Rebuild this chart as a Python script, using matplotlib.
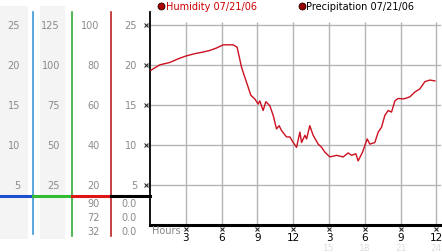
import matplotlib
matplotlib.use("Agg")
import matplotlib.pyplot as plt
from matplotlib import transforms

# ---------------- data ----------------
hours = [0.07, 0.26, 0.82, 1.66, 2.36, 3.0, 3.76, 4.45, 5.01, 5.57, 5.99, 6.13,
         6.97, 7.3, 7.67, 8.09, 8.45, 8.78, 9.06, 9.2, 9.48, 9.71, 10.04, 10.32,
         10.6, 10.82, 11.02, 11.44, 11.72, 12.0, 12.28, 12.56, 12.7, 12.98, 13.12,
         13.39, 13.67, 14.09, 14.38, 14.65, 15.07, 15.63, 16.19, 16.6, 16.89,
         17.25, 17.44, 17.81, 18.2, 18.42, 18.84, 19.12, 19.4, 19.68, 19.96,
         20.24, 20.52, 20.8, 21.27, 21.77, 22.19, 22.61, 23.03, 23.45, 23.87]
humidity = [19.3, 19.5, 20.0, 20.3, 20.75, 21.1, 21.4, 21.6, 21.8, 22.1, 22.4, 22.5,
            22.5, 22.2, 19.7, 17.8, 16.2, 15.75, 15.1, 15.5, 14.3, 15.4, 14.9, 13.7,
            12.0, 12.4, 11.8, 11.0, 11.0, 10.3, 9.7, 11.6, 10.3, 11.2, 10.75,
            12.4, 11.2, 10.1, 9.7, 9.1, 8.5, 8.7, 8.5, 9.0, 8.7,
            8.9, 8.0, 9.1, 10.75, 10.1, 10.3, 11.6, 12.2, 13.7, 14.3,
            14.1, 15.5, 15.8, 15.75, 16.0, 16.6, 17.0, 17.9, 18.1, 18.0]

y_ticks = [5, 10, 15, 20, 25]
col1_labels = ["5", "10", "15", "20", "25"]
col2_labels = ["25", "50", "75", "100", "125"]
col3_labels = ["20", "40", "60", "80", "100"]
col4_labels = ["5", "10", "15", "20", "25"]
col3_extra = ["90", "72", "32"]
col4_extra = ["0.0", "0.0", "0.0"]

x_ticks = [3, 6, 9, 12, 15, 18, 21, 24]
x_labels = ["3", "6", "9", "12", "3", "6", "9", "12"]
x_faint_ticks = [15, 18, 21, 24]
x_faint_labels = ["15", "18", "21", "24"]

legend_names = ["Humidity 07/21/06", "Precipitation 07/21/06"]

# ---------------- figure ----------------
W, H = 442, 253
fig = plt.figure(figsize=(W / 100, H / 100), dpi=100)
fig.patch.set_facecolor("white")

ax = fig.add_axes([150 / W, 27 / H, 290 / W, 213 / H])
ax.set_xlim(0, 24.3)
ax.set_ylim(0, 26.6)
ax.set_facecolor("white")
for s in ["top", "right"]:
    ax.spines[s].set_visible(False)
ax.spines["left"].set_linewidth(1.3)
ax.spines["bottom"].set_linewidth(2.2)
ax.spines["left"].set_color("black")
ax.spines["bottom"].set_color("black")
ax.set_yticks([])
ax.set_xticks(x_ticks)
ax.set_xticklabels(x_labels)
ax.tick_params(axis="x", length=0, pad=5, labelsize=7.5, labelcolor="black")

# overlay in pixel coordinates
ov = fig.add_axes([0, 0, 1, 1])
ov.set_xlim(0, W)
ov.set_ylim(H, 0)
ov.axis("off")
ov.patch.set_alpha(0)

px_y = transforms.blended_transform_factory(ov.transData, ax.transData)   # x pixels, y data
x_py = transforms.blended_transform_factory(ax.transData, ov.transData)   # x data, y pixels

grid_c = "#b4b4b4"
# horizontal grid
for v in y_ticks:
    ax.plot([-0.3, 24.3], [v, v], color=grid_c, lw=1, zorder=1, clip_on=False)
# vertical grid
ax.vlines(x_ticks, 0, 25.3, color=grid_c, lw=1, zorder=1)

# humidity line
ax.plot(hours, humidity, color="#cc1020", lw=1.0, zorder=3)

# y tick markers
ov.plot([145.7] * len(y_ticks), y_ticks, transform=px_y, ls="none", marker="x",
        ms=3, mew=0.8, color="#333333", zorder=5)
# x tick markers
ov.plot(x_ticks, [229.5] * len(x_ticks), transform=x_py, ls="none", marker="x",
        ms=3, mew=0.8, color="#333333", zorder=5, clip_on=False)

# faint secondary labels
for t, lab in zip(x_faint_ticks, x_faint_labels):
    ov.text(t, 248.5, lab, transform=x_py, ha="center", va="center",
            fontsize=6.5, color="#dddddd")

ov.text(152, 231, "Hours", ha="left", va="center", fontsize=7, color="#888888")

# ---------------- left panel ----------------
ov.add_patch(plt.Rectangle((0, 7), 28, 233, color="#f4f4f4", zorder=0, lw=0))
ov.add_patch(plt.Rectangle((40, 7), 25, 233, color="#f4f4f4", zorder=0, lw=0))

ov.plot([33.3, 33.3], [13, 235], color="#3c98d8", lw=1.2)
ov.plot([72.3, 72.3], [13, 237], color="#33aa33", lw=1.2)
ov.plot([111.3, 111.3], [13, 237], color="#bb2222", lw=1.2)

ov.plot([0, 33.3], [197, 197], color="#1a4fd0", lw=2.2)
ov.plot([33.3, 72.3], [197, 197], color="#33bb33", lw=2.2)
ov.plot([72.3, 111.3], [197, 197], color="#dd1515", lw=2.2)
ov.plot([111.3, 149.5], [197, 197], color="black", lw=2.2)

tc = "#8a8a8a"
fs = 7
for v, a, b, c, d in zip(y_ticks, col1_labels, col2_labels, col3_labels, col4_labels):
    ov.text(20, v, a, transform=px_y, ha="right", va="center", fontsize=fs, color=tc)
    ov.text(60, v, b, transform=px_y, ha="right", va="center", fontsize=fs, color=tc)
    ov.text(99.5, v, c, transform=px_y, ha="right", va="center", fontsize=fs, color=tc)
    ov.text(137, v, d, transform=px_y, ha="right", va="center", fontsize=fs, color=tc)

for yy, c, d in zip([204, 218, 232], col3_extra, col4_extra):
    ov.text(99.5, yy, c, ha="right", va="center", fontsize=fs, color=tc)
    ov.text(137, yy, d, ha="right", va="center", fontsize=fs, color=tc)

# ---------------- legend ----------------
ov.plot([161], [6.5], marker="o", ms=5, mfc="#aa0000", mec="#220000", mew=0.6)
ov.text(166, 6.5, legend_names[0], ha="left", va="center", fontsize=7, color="#cc0000")
ov.plot([301.5], [6.5], marker="o", ms=5, mfc="#990000", mec="#220000", mew=0.6)
ov.text(306, 6.5, legend_names[1], ha="left", va="center", fontsize=7, color="black")

fig.savefig("out.png", dpi=100, facecolor="white")
